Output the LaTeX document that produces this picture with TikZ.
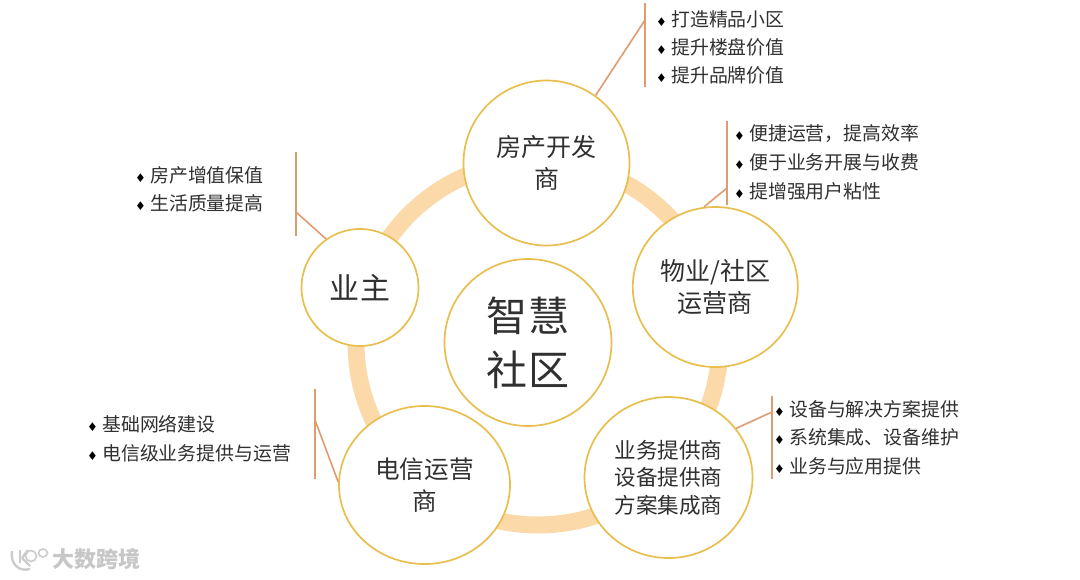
\documentclass[tikz,border=0pt]{standalone}
\usepackage{fontspec}
\usetikzlibrary{shapes.geometric}
\setmainfont{Noto Sans CJK SC}
\newfontfamily\dvfont{DejaVu Sans}
\definecolor{ringc}{HTML}{FBD9A8}
\definecolor{circc}{HTML}{E8BF4E}
\definecolor{linec}{HTML}{DE9C70}
\definecolor{txtc}{HTML}{303030}
\newcommand{\blt}{{\dvfont\fontsize{12}{12}\selectfont\color{black}♦}\hspace{4.3pt}}
\tikzset{
  bub/.style={ellipse,draw=circc,line width=1.7pt,fill=white,inner sep=0pt,align=center,text=txtc,font=\fontsize{25}{32}\selectfont},
  item/.style={anchor=west,inner sep=0pt,text=txtc,font=\fontsize{18.9}{19}\selectfont},
  spine/.style={draw=linec,line width=2pt},
  lead/.style={draw=linec,line width=1.6pt},
  wm/.style={draw=black!20,line width=1.6pt}
}
\begin{document}
\begin{tikzpicture}[x=1pt,y=-1pt]
\useasboundingbox (0,0) rectangle (1080,579);
\fill[white] (0,0) rectangle (1080,579);
\coordinate (rc) at (538,343);
\draw[ringc,line width=17pt] (rc) circle (182);
\node[bub,minimum width=166pt,minimum height=165pt] (fc) at (546.5,163) {房产开发\\商};
\node[bub,minimum width=165pt,minimum height=160pt] (wy) at (715.3,287) {物业/社区\\运营商};
\node[bub,minimum width=168pt,minimum height=161pt,font=\fontsize{21.6}{27.6}\selectfont] (yw) at (668.5,477.5) {业务提供商\\设备提供商\\方案集成商};
\node[bub,minimum width=171pt,minimum height=158pt,font=\fontsize{24.6}{32}\selectfont] (dx) at (424.5,485) {电信运营\\商};
\node[bub,minimum width=117pt,minimum height=117pt,font=\fontsize{30}{36}\selectfont] (yz) at (360,287.5) {业\hspace{1.5pt}主};
\node[bub,minimum width=167pt,minimum height=167pt,font=\fontsize{41}{54}\selectfont] (zh) at (528,342.5) {智\hspace{1pt}慧\\社\hspace{1pt}区};
% top list
\coordinate (a1) at (645,3); \coordinate (a2) at (645,87); \coordinate (a3) at (645,20);
\draw[spine] (a1) -- (a2);
\draw[lead] (fc.54.5) -- (a3);
\node[item] (t1) at (656,19) {\blt 打造精品小区};
\node[item] (t2) at (656,47) {\blt 提升楼盘价值};
\node[item] (t3) at (656,75) {\blt 提升品牌价值};
% wuye list
\coordinate (b1) at (727,121); \coordinate (b2) at (727,205); \coordinate (b3) at (727,188);
\draw[spine] (b1) -- (b2);
\draw[lead] (wy.98.5) -- (b3);
\node[item] (t4) at (734,134) {\blt 便捷运营，提高效率};
\node[item] (t5) at (734,162) {\blt 便于业务开展与收费};
\node[item] (t6) at (734,191) {\blt 提增强用户粘性};
% yewu list
\coordinate (c1) at (772,396); \coordinate (c2) at (772,479); \coordinate (c3) at (772,412);
\draw[spine] (c1) -- (c2);
\draw[lead] (yw.36) -- (c3);
\node[item] (t7) at (774,409) {\blt 设备与解决方案提供};
\node[item] (t8) at (774,437) {\blt 系统集成、设备维护};
\node[item] (t9) at (774,466) {\blt 业务与应用提供};
% dianxin list
\coordinate (d1) at (315,389); \coordinate (d2) at (315,479); \coordinate (d3) at (315,420);
\draw[spine] (d1) -- (d2);
\draw[lead] (dx.178) -- (d3);
\node[item] (t10) at (87,424) {\blt 基础网络建设};
\node[item] (t11) at (87,453) {\blt 电信级业务提供与运营};
% yezhu list
\coordinate (e1) at (296,152); \coordinate (e2) at (296,236); \coordinate (e3) at (296,212);
\draw[spine] (e1) -- (e2);
\draw[lead] (yz.125) -- (e3);
\node[item] (t12) at (135,175) {\blt 房产增值保值};
\node[item] (t13) at (135,203) {\blt 生活质量提高};
% watermark
\draw[wm,line width=2.4pt] (12,551) .. controls (10,565) and (20,572) .. (30,569);
\draw[wm,line width=2.4pt] (20,550) -- (20,563);
\draw[wm,line width=2.4pt] (22,558) -- (28,550);
\draw[wm,line width=2.4pt] (22,558) -- (30,566);
\draw[wm] (31,556) circle (5.5);
\draw[wm] (43,553) ellipse (4.5 and 4);
\node[anchor=west,inner sep=0pt,text=black!22,font=\fontsize{22}{22}\selectfont\bfseries] (wmt) at (52,559) {大数跨境};
\end{tikzpicture}
\end{document}
